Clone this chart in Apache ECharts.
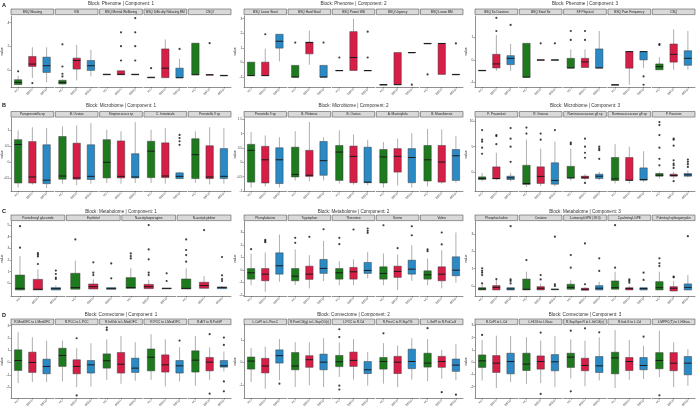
<!DOCTYPE html>
<html><head><meta charset="utf-8">
<script src="https://cdn.jsdelivr.net/npm/echarts@6/dist/echarts.min.js"></script>
<style>html,body{margin:0;padding:0;background:#fff}#c{width:696px;height:410px}</style>
</head><body><div id="c"></div>
<script>
const groups = ['HC', 'BBD1', 'BBD2'];
const groupColors = ['#1d7a1d', '#d71e47', '#2a8ac6'];

// ---------- Phenome ----------
const phenome1Facets = ['BSQ Bloating', 'VSI', 'BSQ Mental Wellbeing', 'BSQ Difficulty Relaxing BM', 'CSQI'];
const phenome1Boxes = [
  [[-1.19,-1.19,-1.0,-0.78,-0.44],[-0.64,0.33,0.53,1.17,1.94],[-1.0,-0.17,0.39,1.11,1.94]],
  [[-1.19,-1.14,-1.0,-0.83,-0.75],[-0.83,0.11,0.83,1.03,2.14],[-0.5,0.0,0.39,0.83,1.72]],
  [[-0.33,-0.33,-0.33,-0.33,-0.33],[-0.36,-0.36,-0.33,-0.03,-0.03],[-0.33,-0.33,-0.33,-0.33,-0.33]],
  [[-0.58,-0.58,-0.58,-0.58,-0.58],[-0.61,-0.61,0.19,1.8,2.6],[-0.61,-0.61,-0.61,0.19,0.97]],
  [[-0.36,-0.36,-0.36,2.28,2.28],[-0.36,-0.36,-0.36,-0.36,-0.36],[-0.42,-0.42,-0.42,-0.42,-0.42]]
];
const phenome1Outliers = [[0,0,-0.08],[0,1,-1.06],[1,0,2.19],[1,0,0.33],[1,0,-0.28],[1,0,-0.5],[2,1,3.19],[2,1,2.03],[2,1,0.83],[2,2,4.39],[2,2,3.19],[2,2,2.03],[2,2,0.83],[3,0,0.19],[3,2,1.8],[4,1,2.28]];
const phenome1Ticks = [0, 2, 4];

const phenome2Facets = ['BSQ Loose Stool', 'BSQ Hard Stool', 'BSQ Power Will', 'BSQ Urgency', 'BSQ Loose BM'];
const phenome2Boxes = [
  [[-0.9,-0.9,-0.9,0.02,0.02],[-0.9,-0.9,-0.9,0.02,0.95],[0.07,0.98,1.45,1.93,1.93]],
  [[-1.0,-1.0,-1.0,-0.2,-0.2],[-0.16,0.59,1.36,1.39,2.18],[-1.0,-1.0,-1.0,-0.2,-0.2]],
  [[-0.55,-0.55,-0.55,-0.55,-0.55],[-0.55,-0.55,0.34,2.11,3.0],[-0.55,-0.55,-0.55,-0.55,-0.55]],
  [[-1.52,-1.52,-1.52,-1.52,-1.52],[-1.52,-1.52,-1.52,0.68,0.68],[0.68,0.68,0.68,0.68,0.68]],
  [[1.3,1.3,1.3,1.3,1.3],[-0.82,-0.82,1.3,1.3,1.3],[-0.82,-0.82,-0.82,-0.82,-0.82]]
];
const phenome2Outliers = [[0,1,1.93],[1,0,1.36],[1,2,1.36],[2,0,0.34],[2,2,2.11],[2,2,0.34],[3,2,-1.52],[4,0,-0.82],[4,2,1.3]];
const phenome2Ticks = [-1, 0, 1, 2, 3];

const phenome3Facets = ['BSQ Sx Duration', 'BSQ Stool Sx', 'SF Physical', 'BSQ Pain Frequency', 'CSQ'];
const phenome3Boxes = [
  [[-0.47,-0.47,-0.47,-0.47,-0.47],[-0.49,-0.36,-0.18,0.25,1.11],[-0.49,-0.21,0.07,0.19,0.71]],
  [[-0.77,-0.77,-0.77,0.74,0.74],[0,0,0,0,0],[0,0,0,0,0]],
  [[-0.36,-0.36,-0.36,0.07,0.47],[-0.34,-0.34,-0.09,0.07,0.47],[-0.36,-0.36,-0.36,0.49,1.29]],
  [[-1.11,-1.11,-1.11,-1.11,-1.11],[-1.11,-0.37,0.37,0.37,0.37],[-0.37,0,0.37,0.37,0.37]],
  [[-0.44,-0.44,-0.3,-0.18,0.12],[-0.44,-0.1,0.25,0.71,1.36],[-0.44,-0.24,0.07,0.41,1.29]]
];
const phenome3Outliers = [[0,1,1.29],[0,1,1.88],[0,2,1.56],[1,1,0.74],[1,2,0.74],[2,0,0.89],[2,0,1.29],[2,1,0.89],[2,1,1.29],[3,2,-0.74],[3,2,-1.11],[4,0,0.67],[4,0,0.71]];
const phenome3Ticks = [-1, 0, 1];

// ---------- Microbiome ----------
const microbiome1Facets = ['Paraprevotella sp', 'B. Ovatus', 'Streptococcus sp', 'C. Intestinale', 'Prevotella 9 sp'];
const microbiome1Boxes = [
  [[-0.79,-0.65,0.56,0.71,1.0],[-0.7,-0.65,-0.46,0.65,1.1],[-0.81,-0.67,-0.56,0.55,1.08]],
  [[-0.67,-0.53,-0.43,0.81,1.13],[-0.72,-0.53,-0.49,0.6,1.16],[-0.67,-0.54,-0.44,0.55,1.23]],
  [[-0.65,-0.49,0,0.71,1.02],[-0.67,-0.49,-0.44,0.67,0.97],[-0.65,-0.49,-0.46,0.27,1.26]],
  [[-0.65,-0.48,0.35,0.66,1.02],[-0.67,-0.48,-0.43,0.61,1.07],[-0.53,-0.51,-0.44,-0.33,-0.3]],
  [[-0.65,-0.51,0.24,0.74,0.97],[-0.69,-0.51,-0.46,0.52,1.1],[-0.67,-0.51,-0.44,0.43,1.07]]
];
const microbiome1Outliers = [[3,2,0.86],[3,2,0.76],[3,2,0.66],[3,2,0.55]];
const microbiome1Ticks = [-0.5, 0, 0.5, 1];

const microbiome2Facets = ['Prevotella 9 sp', 'B. Plebeius', 'B. Ovatus', 'A. Muciniphila', 'B. Massiliensis'];
const microbiome2Boxes = [
  [[-0.88,-0.69,0.42,0.63,1.06],[-0.84,-0.72,0.09,0.56,0.94],[-0.88,-0.74,0.09,0.51,0.88]],
  [[-0.63,-0.51,-0.42,0.53,1.09],[-0.66,-0.49,-0.45,0.42,1.41],[-0.63,-0.45,0.06,0.73,0.88]],
  [[-0.74,-0.63,0.36,0.59,1.12],[-0.78,-0.71,0.21,0.57,0.97],[-0.8,-0.71,-0.69,0.53,0.79]],
  [[-0.88,-0.72,0.19,0.45,0.71],[-0.81,-0.34,0.21,0.48,0.83],[-0.88,-0.71,0.17,0.48,1.02]],
  [[-0.84,-0.65,0.09,0.59,1.17],[-0.74,-0.69,0.01,0.59,1.15],[-0.7,-0.63,0.23,0.45,0.92]]
];
const microbiome2Outliers = [];
const microbiome2Ticks = [-1, -0.5, 0, 0.5, 1, 1.5];

const microbiome3Facets = ['F. Prausnitzii', 'R. Gnavus', 'Ruminococcaceae g6 sp', 'Ruminococcaceae g8 sp', 'P. Faecium'];
const microbiome3Boxes = [
  [[-1.85,-1.52,-1.32,-0.99,-0.2],[-1.66,-1.39,-1.32,0.99,3.8],[-1.85,-1.52,-1.19,-0.86,-0.2]],
  [[-3.0,-2.5,-2.3,1.3,6.4],[-2.8,-2.3,-0.9,1.0,4.6],[-2.85,-2.45,-1.7,1.8,6.0]],
  [[-1.72,-1.2,-1.2,1.1,4.6],[-1.66,-1.32,-1.06,-0.86,-0.46],[-1.66,-1.32,-0.86,-0.46,0]],
  [[-2.3,-1.72,-1.39,2.85,5.5],[-2.3,-1.66,-1.66,2.85,5.0],[-1.99,-1.66,-1.52,0.79,4.1]],
  [[-1.32,-0.86,-0.66,-0.33,0],[-1.32,-0.86,-0.73,-0.46,0],[-1.12,-0.86,-0.6,-0.33,0.33]]
];
const microbiome3Outliers = [[0,0,8.3],[0,0,6.4],[0,0,6.0],[0,0,4.8],[0,0,3.6],[0,1,7.1],[0,1,7.3],[0,1,5.5],[0,2,8.7],[0,2,6.6],[0,2,5.0],[0,2,2.0],
  [1,0,8.8],[1,0,7.6],[1,1,7.6],[1,1,6.4],[1,2,8.3],[2,0,5.8],[2,0,5.5],[2,1,6.6],[2,1,5.0],[2,1,3.8],[2,1,2.8],[2,1,-2.2],[2,2,5.0],[2,2,4.6],[2,2,4.3],[2,2,2.6],
  [4,0,9.9],[4,0,9.3],[4,0,7.3],[4,0,4.8],[4,0,2.6],[4,0,1.3],[4,1,6.6],[4,1,6.4],[4,1,5.2],[4,1,2.3],[4,1,1.66],[4,1,1.32],[4,1,0.79],[4,1,-1.85],[4,2,2.45],[4,2,1.99],[4,2,1.52],[4,2,0.99]];
const microbiome3Ticks = [0, 5, 10];

// ---------- Metabolome ----------
const metabolome1Facets = ['Pantothenyl glucoside', 'Erythritol', 'N-acetylasparagine', 'N-acetylcytidine'];
const metabolome1Boxes = [
  [[-0.63,-0.57,-0.43,0.71,2.34],[-0.57,-0.57,-0.51,0.34,1.2],[-0.57,-0.57,-0.46,-0.37,-0.2]],
  [[-0.51,-0.51,-0.37,0.86,1.94],[-0.49,-0.49,-0.29,-0.06,0.34],[-0.51,-0.51,-0.46,-0.37,-0.37]],
  [[-0.43,-0.43,-0.37,0.49,1.29],[-0.46,-0.46,-0.29,-0.09,0.29],[-0.43,-0.43,-0.43,-0.43,-0.43]],
  [[-0.49,-0.49,-0.43,0.37,1.29],[-0.43,-0.43,-0.2,0.09,0.63],[-0.46,-0.46,-0.37,-0.31,-0.23]]
];
const metabolome1Outliers = [[0,0,4.91],[0,0,3.06],[0,1,2.6],[0,1,2.46],[0,1,2.31],[0,1,1.66],[0,2,1.09],[0,2,0.8],[0,2,0.49],[0,2,0.37],
  [1,0,3.77],[1,1,1.8],[1,1,0.91],[1,1,0.71],[1,2,1.71],[1,2,0.43],
  [2,0,2.57],[2,0,2.34],[2,0,2.14],[2,1,5.0],[2,1,2.91],[2,1,2.06],[2,1,0.91],[2,1,0.71],[2,2,0.86],[2,2,0.2],
  [3,0,3.77],[3,0,2.86],[3,0,2.43],[3,0,1.86],[3,1,4.57],[3,2,2.26],[3,2,0.69],[3,2,0.37],[3,2,0.2]];
const metabolome1Ticks = [0, 1, 2, 3, 4, 5];

const metabolome2Facets = ['Phenylalanine', 'Tryptophan', 'Threonine', 'Serine', 'Valine'];
const metabolome2Boxes = [
  [[-1.23,-0.75,-0.24,0.1,1.3],[-1.76,-0.88,-0.35,0.1,1.39],[-0.96,-0.35,0.32,1.36,2.83]],
  [[-1.23,-0.88,-0.51,0.1,1.63],[-1.49,-0.77,-0.35,0.29,1.17],[-0.91,-0.29,0.11,0.83,2.32]],
  [[-1.23,-0.75,-0.24,0.1,0.69],[-1.23,-0.75,-0.16,0.19,0.83],[-0.69,-0.29,-0.05,0.59,1.44]],
  [[-1.23,-0.75,-0.29,0.24,1.31],[-1.63,-0.61,-0.13,0.29,1.23],[-0.88,-0.35,0.05,0.77,1.97]],
  [[-1.23,-0.75,-0.4,-0.08,0.91],[-1.49,-0.88,-0.35,0.24,1.57],[-1.04,-0.48,-0.03,1.04,2.99]]
];
const metabolome2Outliers = [[0,0,1.65],[0,1,2.4],[0,1,2.3],[0,1,2.21],[1,0,2.56],[1,0,2.16],[1,1,2.64],[1,2,3.25],
  [2,0,2.56],[2,0,2.05],[2,1,3.23],[2,2,3.31],[2,2,3.12],[2,2,2.96],[3,0,3.57],[3,1,1.73],[3,2,3.49],[3,2,2.77],
  [4,0,1.63],[4,0,1.49],[4,1,2.99],[4,1,2.03]];
const metabolome2Ticks = [-2, -1, 0, 1, 2, 3];

const metabolome3Facets = ['Phosphocholine', 'Creatine', '1-stearoyl-GPE (18:0)', '2-palmitoyl-GPE', 'Palmitoyl sphingomyelin'];
const metabolome3Boxes = [
  [[-0.23,-0.23,-0.17,-0.1,0.06],[-0.23,-0.23,-0.08,0.02,0.38],[-0.23,-0.23,-0.17,-0.1,-0.1]],
  [[-0.23,-0.23,-0.19,0.4,0.83],[-0.23,-0.23,-0.13,-0.04,0.15],[-0.19,-0.19,-0.19,-0.19,-0.19]],
  [[-0.23,-0.19,-0.08,0.1,0.35],[-0.25,-0.25,-0.19,-0.13,-0.08],[-0.23,-0.23,-0.13,0.02,0.25]],
  [[-0.19,-0.19,-0.1,0.29,0.83],[-0.23,-0.23,-0.15,-0.1,0],[-0.23,-0.23,-0.15,-0.1,-0.1]],
  [[-0.23,-0.23,-0.1,0.25,0.83],[-0.29,-0.29,-0.13,-0.04,0.29],[-0.23,-0.23,-0.08,0.12,0.63]]
];
const metabolome3Outliers = [[0,0,1.02],[0,0,0.88],[0,0,0.77],[0,0,0.63],[0,0,0.15],[0,1,0.4],[0,2,3.46],[0,2,0.38],[0,2,0.29],[0,2,0.15],
  [1,0,1.5],[1,1,0.63],[1,1,0.38],[1,2,2.85],[1,2,0.1],[1,2,0.0],
  [2,0,1.79],[2,0,1.06],[2,1,2.46],[2,1,0.1],[2,2,1.6],[2,2,0.87],
  [3,0,3.52],[3,0,1.06],[3,1,0.38],[3,1,0.29],[3,1,0.19],[3,2,0.77],[3,2,0.35],
  [4,0,1.6],[4,0,1.31],[4,0,1.15],[4,1,0.54],[4,1,0.5],[4,2,2.88]];
const metabolome3Ticks = [0, 1, 2, 3];

// ---------- Connectome ----------
const connectome1Facets = ['R.MedOFC to L.MedOFC', 'R.PCC to L.PCC', 'R.InfOrb to L.MedOFC', 'R.PCC to L.MedOFC', 'R.AIT to R.PutGP'];
const connectome1Boxes = [
  [[-1.68,-0.65,0.16,1.03,2.46],[-1.59,-0.81,0,0.84,2.05],[-1.59,-0.92,-0.32,0.27,1.78]],
  [[-1.54,-0.32,0.57,1.16,1.78],[-2.0,-0.92,-0.32,0.22,1.16],[-1.95,-0.86,-0.19,0.16,1.57]],
  [[-1.41,-0.46,0.14,0.7,1.89],[-1.73,-0.86,-0.14,0.81,2.16],[-1.49,-0.81,-0.46,0.35,1.65]],
  [[-1.41,-0.68,0.43,1.1,2.3],[-1.95,-0.78,-0.19,0.62,1.89],[-1.54,-0.86,-0.27,0.16,1.24]],
  [[-1.89,-0.78,0.19,0.95,2.16],[-1.41,-0.68,0.03,0.41,1.22],[-0.73,-0.38,-0.27,0.16,0.89]]
];
const connectome1Outliers = [[1,1,1.97],[1,1,-2.68],[2,0,2.84],[2,0,2.65],[3,2,1.78],[4,1,2.3],[4,1,-2.54],[4,2,2.03],[4,2,1.43],[4,2,-1.54],[4,2,-2.35]];
const connectome1Ticks = [-2, -1, 0, 1, 2, 3];

const connectome2Facets = ['L.CePl to L.PrecC', 'R.PostCG(g) to L.SupCG(r)', 'L.PCC to R.Cd', 'R.PrecC to R.SupTG', 'L.GePI to R.PutCaG'];
const connectome2Boxes = [
  [[-0.87,-0.3,0.06,0.24,0.64],[-1.17,-0.47,-0.16,0.18,0.71],[-0.8,-0.03,0.3,0.56,1.04]],
  [[-1.1,-0.33,-0.16,0.44,0.9],[-1.02,-0.22,0.12,0.3,0.9],[-1.1,-0.33,0.01,0.37,1.08]],
  [[-0.65,-0.19,0.03,0.31,0.89],[-0.77,-0.18,0.09,0.46,1.04],[-1.04,-0.5,-0.33,0.04,0.46]],
  [[-0.95,-0.3,0.04,0.22,0.86],[-1.1,-0.5,0.01,0.27,0.76],[-0.77,-0.28,0.04,0.59,1.08]],
  [[-0.84,-0.21,-0.03,0.41,1.04],[-0.73,-0.22,0.04,0.27,0.56],[-0.8,-0.4,-0.12,0.15,0.83]]
];
const connectome2Outliers = [[0,2,-0.95],[2,0,1.48],[2,0,1.13],[2,0,-1.04],[2,0,-1.21],[3,0,1.3],[4,0,1.53],[4,1,-1.33],[4,2,-1.44]];
const connectome2Ticks = [-1, 0, 1];

const connectome3Facets = ['R.CePl to L.Cd', 'L.HOG to L.Nacc', 'R.SupGym R to L.InfCG(s)', 'R.InsLG to L.Cd', 'L.MPFC(T) to L.HGiua'];
const connectome3Boxes = [
  [[-1.49,-0.43,0.11,0.59,1.81],[-2.11,-0.84,-0.08,0.54,2.16],[-1.62,-0.95,0.05,0.73,2.14]],
  [[-1.78,-0.68,-0.16,0.73,2.03],[-1.7,-0.57,0.05,0.51,1.76],[-2.03,-0.7,0.03,0.62,2.14]],
  [[-1.32,-0.43,0.41,0.73,1.86],[-1.97,-0.7,-0.27,0.32,1.76],[-1.49,-0.84,-0.3,0.46,2.03]],
  [[-2.11,-0.95,0.35,0.81,2.62],[-1.43,-0.68,0.05,0.38,1.81],[-1.38,-0.62,-0.27,0.38,1.35]],
  [[-1.22,-0.54,0.14,0.78,2.57],[-2.03,-0.7,-0.08,0.78,1.62],[-1.92,-1.03,-0.08,0.46,1.05]]
];
const connectome3Outliers = [[0,0,2.22],[1,1,2.41],[1,1,-2.59],[2,0,2.57],[2,0,-2.38],[2,1,2.76],[2,2,2.43],[3,2,2.08],[4,0,-2.7]];
const connectome3Ticks = [-2, -1, 0, 1, 2, 3];

// ---------- layout (positions only) ----------
const rows = [
  {letter:'A', letterY:2,   titleY:4,   stripTop:9,   plotTop:16,  plotBot:87},
  {letter:'B', letterY:102, titleY:106, stripTop:111.5, plotTop:118, plotBot:191},
  {letter:'C', letterY:208, titleY:211.5, stripTop:215, plotTop:221.5, plotBot:296},
  {letter:'D', letterY:312, titleY:315, stripTop:319, plotTop:325, plotBot:398}
];
const cols = [{left:11, right:231}, {left:244, right:463}, {left:475, right:695}];

const panels = [
  {block:'Phenome', comp:1, row:0, col:0, facets:phenome1Facets, boxes:phenome1Boxes, outliers:phenome1Outliers, ticks:phenome1Ticks, ymin:-1.39, ymax:4.56},
  {block:'Phenome', comp:2, row:0, col:1, facets:phenome2Facets, boxes:phenome2Boxes, outliers:phenome2Outliers, ticks:phenome2Ticks, ymin:-1.68, ymax:3.18},
  {block:'Phenome', comp:3, row:0, col:2, facets:phenome3Facets, boxes:phenome3Boxes, outliers:phenome3Outliers, ticks:phenome3Ticks, ymin:-1.21, ymax:1.96},
  {block:'Microbiome', comp:1, row:1, col:0, facets:microbiome1Facets, boxes:microbiome1Boxes, outliers:microbiome1Outliers, ticks:microbiome1Ticks, ymin:-0.9, ymax:1.39},
  {block:'Microbiome', comp:2, row:1, col:1, facets:microbiome2Facets, boxes:microbiome2Boxes, outliers:microbiome2Outliers, ticks:microbiome2Ticks, ymin:-1.0, ymax:1.55},
  {block:'Microbiome', comp:3, row:1, col:2, facets:microbiome3Facets, boxes:microbiome3Boxes, outliers:microbiome3Outliers, ticks:microbiome3Ticks, ymin:-3.8, ymax:10.7},
  {block:'Metabolome', comp:1, row:2, col:0, facets:metabolome1Facets, boxes:metabolome1Boxes, outliers:metabolome1Outliers, ticks:metabolome1Ticks, ymin:-1.09, ymax:5.31},
  {block:'Metabolome', comp:2, row:2, col:1, facets:metabolome2Facets, boxes:metabolome2Boxes, outliers:metabolome2Outliers, ticks:metabolome2Ticks, ymin:-2.1, ymax:3.87},
  {block:'Metabolome', comp:3, row:2, col:2, facets:metabolome3Facets, boxes:metabolome3Boxes, outliers:metabolome3Outliers, ticks:metabolome3Ticks, ymin:-0.58, ymax:3.73},
  {block:'Connectome', comp:1, row:3, col:0, facets:connectome1Facets, boxes:connectome1Boxes, outliers:connectome1Outliers, ticks:connectome1Ticks, ymin:-2.89, ymax:3.05},
  {block:'Connectome', comp:2, row:3, col:1, facets:connectome2Facets, boxes:connectome2Boxes, outliers:connectome2Outliers, ticks:connectome2Ticks, ymin:-1.59, ymax:1.67},
  {block:'Connectome', comp:3, row:3, col:2, facets:connectome3Facets, boxes:connectome3Boxes, outliers:connectome3Outliers, ticks:connectome3Ticks, ymin:-2.92, ymax:3.03}
];

const FONT = 'Liberation Sans, Arial, sans-serif';

function renderBox(params, api) {
  const g = api.value(0);
  const lo = api.coord([g, api.value(1)]);
  const q1 = api.coord([g, api.value(2)]);
  const md = api.coord([g, api.value(3)]);
  const q3 = api.coord([g, api.value(4)]);
  const hi = api.coord([g, api.value(5)]);
  const bw = api.size([1, 0])[0] * 0.52;
  const x = lo[0];
  return {
    type: 'group',
    children: [
      {type:'line', shape:{x1:x, y1:hi[1], x2:x, y2:q3[1]}, style:{stroke:'#a6a6a6', lineWidth:0.9}},
      {type:'line', shape:{x1:x, y1:q1[1], x2:x, y2:lo[1]}, style:{stroke:'#a6a6a6', lineWidth:0.9}},
      {type:'rect', shape:{x:x-bw/2, y:q3[1], width:bw, height:Math.max(q1[1]-q3[1], 0.5)},
        style:{fill:groupColors[g], stroke:'#3a3a3a', lineWidth:0.5}},
      {type:'line', shape:{x1:x-bw/2, y1:md[1], x2:x+bw/2, y2:md[1]}, style:{stroke:'#1a1a1a', lineWidth:1}}
    ]
  };
}

const grid = [], xAxis = [], yAxis = [], series = [], graphic = [];
let gi = 0;
panels.forEach(p => {
  const r = rows[p.row], c = cols[p.col];
  const n = p.facets.length, gap = 1.6;
  const w = (c.right - c.left - gap * (n - 1)) / n;
  graphic.push({type:'text', x:(c.left + c.right)/2, y:r.titleY,
    style:{text:'Block: ' + p.block + ' | Component: ' + p.comp, textAlign:'center', textVerticalAlign:'middle', font:'4.6px ' + FONT, fill:'#333'}});
  graphic.push({type:'text', x:c.left - 9, y:(r.plotTop + r.plotBot)/2, rotation:Math.PI/2,
    style:{text:'value', textAlign:'center', textVerticalAlign:'middle', font:'3.6px ' + FONT, fill:'#222'}});
  p.facets.forEach((name, f) => {
    const left = c.left + f * (w + gap);
    grid.push({left:left, top:r.plotTop, width:w, height:r.plotBot - r.plotTop, containLabel:false});
    xAxis.push({type:'category', gridIndex:gi, data:groups,
      axisLine:{show:true, onZero:false, lineStyle:{color:'#444', width:0.6}},
      axisTick:{show:true, length:1.5, alignWithLabel:true, lineStyle:{color:'#444', width:0.5}},
      axisLabel:{rotate:45, fontSize:3, margin:2, color:'#444', fontFamily:FONT}});
    yAxis.push({type:'value', gridIndex:gi, min:p.ymin, max:p.ymax, splitLine:{show:false},
      axisLine:{show:f === 0, onZero:false, lineStyle:{color:'#444', width:0.6}},
      axisTick:{show:f === 0, length:1.5, customValues:p.ticks, lineStyle:{color:'#444', width:0.5}},
      axisLabel:{show:f === 0, customValues:p.ticks, fontSize:3.4, margin:1.5, color:'#444', fontFamily:FONT}});
    series.push({type:'custom', xAxisIndex:gi, yAxisIndex:gi, renderItem:renderBox, clip:false,
      encode:{x:0, y:[1,2,3,4,5]},
      data:p.boxes[f].map((b, g) => [g].concat(b))});
    series.push({type:'scatter', xAxisIndex:gi, yAxisIndex:gi, symbolSize:2.2, itemStyle:{color:'#111'},
      data:p.outliers.filter(o => o[0] === f).map(o => [o[1], o[2]])});
    graphic.push({type:'rect', shape:{x:left, y:r.stripTop, width:w, height:5.6},
      style:{fill:'#d9d9d9', stroke:'#3a3a3a', lineWidth:0.5}});
    graphic.push({type:'text', x:left + w/2, y:r.stripTop + 2.8,
      style:{text:name, textAlign:'center', textVerticalAlign:'middle', font:'3.2px ' + FONT, fill:'#222'}});
    gi++;
  });
});
rows.forEach(r => {
  graphic.push({type:'text', x:2, y:r.letterY,
    style:{text:r.letter, font:'bold 5.5px ' + FONT, fill:'#111'}});
});

const chart = echarts.init(document.getElementById('c'), null, {renderer:'canvas'});
chart.setOption({animation:false, backgroundColor:'#fff', grid, xAxis, yAxis, series, graphic});
</script></body></html>
